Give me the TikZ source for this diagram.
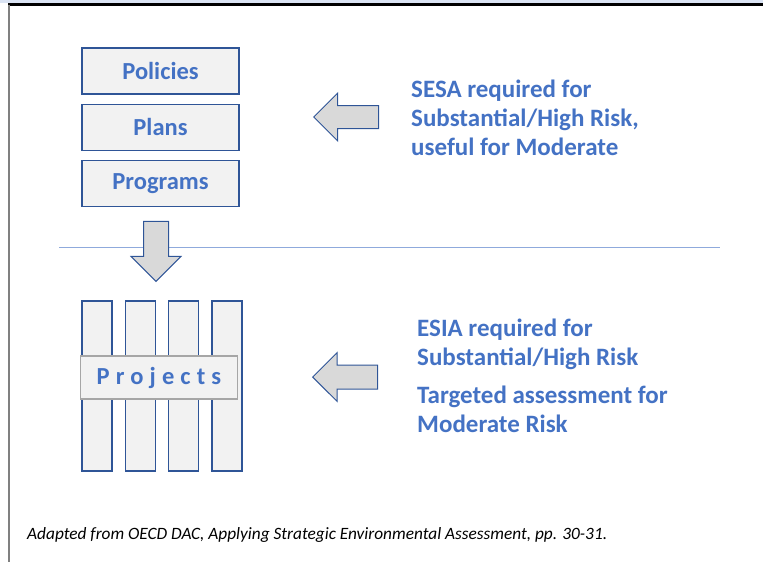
\documentclass[tikz,border=0pt]{standalone}
\usepackage{fontspec}
\setmainfont{Carlito}
\newfontfamily\spacedfont[LetterSpace=25]{Carlito}
\usetikzlibrary{positioning,shapes.arrows}

\definecolor{txtblue}{HTML}{4472C4}
\definecolor{boxline}{HTML}{2F5597}
\definecolor{boxfill}{HTML}{F2F2F2}
\definecolor{arrowfill}{HTML}{D9D9D9}
\definecolor{rule}{HTML}{8FAADC}
\definecolor{topband}{HTML}{DAE3F3}

\begin{document}
\begin{tikzpicture}[x=1pt, y=-1pt,
    level box/.style={rectangle, draw=boxline, line width=1.3pt, fill=boxfill,
      minimum width=157pt, minimum height=46pt, inner sep=0pt,
      text=txtblue, font=\fontsize{24.5}{29}\selectfont\bfseries},
    project col/.style={rectangle, draw=boxline, line width=1.3pt, fill=boxfill,
      minimum width=30pt, minimum height=170pt, inner sep=0pt},
    block arrow/.style={single arrow, draw=boxline, line width=1pt, fill=arrowfill,
      text height=0pt, text depth=0pt, inner sep=0pt, anchor=tip,
      single arrow head extend=12.5pt},
    note/.style={anchor=base west, align=left, inner sep=0pt,
      text=txtblue, font=\fontsize{25}{29}\selectfont\bfseries}]

  \useasboundingbox (0,0) rectangle (763,562);

  % frame
  \fill[topband] (0,0) rectangle (763,3);
  \draw[line width=2.5pt] (8,4.5) -- (763,4.5);
  \draw[gray, line width=2pt] (9,4.5) -- (9,562);

  % strategic level
  \node[level box] (policies) at (160.5,71) {Policies};
  \node[level box] (plans) [below=9pt of policies] {Plans};
  \node[level box] (programs) [below=9pt of plans] {Programs};

  \draw[rule, line width=1pt] (59,247) -- (720,247);

  \node[block arrow, shape border rotate=270, inner xsep=12pt,
    minimum height=60pt] (down) at (156,282) {};

  % project level
  \node[project col] (col1) at (97,386) {};
  \node[project col] (col2) [right=12pt of col1] {};
  \node[project col] (col3) [right=12pt of col2] {};
  \node[project col] (col4) [right=12pt of col3] {};
  \node[rectangle, draw=gray!70, line width=1.3pt, fill=boxfill,
    minimum width=157pt, minimum height=43pt, inner sep=0pt,
    text=txtblue, font=\fontsize{24.5}{29}\selectfont\bfseries\spacedfont] (projects) at (159,377.5) {Projects};

  % assessments
  \node[block arrow, shape border rotate=180, inner ysep=11pt,
    minimum height=65pt] (sesaarrow) at (313,117) {};
  \node[note] (sesa) at (411,155) {SESA required for\\Substantial/High Risk,\\useful for Moderate};

  \node[block arrow, shape border rotate=180, inner ysep=11.5pt,
    minimum height=65pt] (esiaarrow) at (312,377) {};
  \node[note] (esia) at (417,432) {ESIA required for\\Substantial/High Risk\\[9pt]Targeted assessment for\\Moderate Risk};

  \node[anchor=base west, inner sep=0pt, font=\fontsize{17.3}{20}\selectfont\itshape] (source) at (27,539)
    {Adapted from OECD DAC, Applying Strategic Environmental Assessment, pp. 30-31.};
\end{tikzpicture}
\end{document}
